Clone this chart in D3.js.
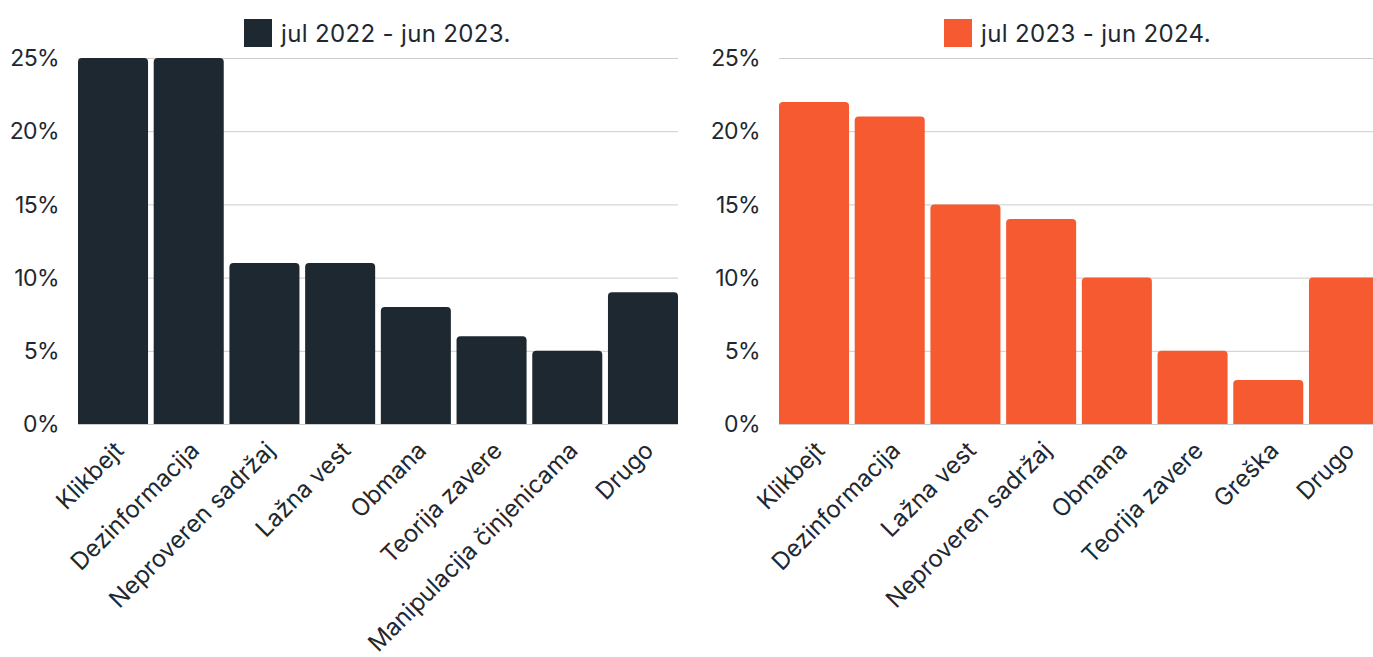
<!DOCTYPE html>
<html><head><meta charset="utf-8">
<script src="https://cdn.jsdelivr.net/npm/d3@7"></script>
<style>body{margin:0;background:#fff;}svg{display:block;font-family:Inter,"Noto Sans",sans-serif;}</style>
</head><body>
<svg id="c" width="1373" height="657"></svg>
<script>
const categories1 = ["Klikbejt","Dezinformacija","Neproveren sadržaj","Lažna vest","Obmana","Teorija zavere","Manipulacija činjenicama","Drugo"];
const values1 = [25,25,11,11,8,6,5,9];
const categories2 = ["Klikbejt","Dezinformacija","Lažna vest","Neproveren sadržaj","Obmana","Teorija zavere","Greška","Drugo"];
const values2 = [22,21,15,14,10,5,3,10];
const yTicks = [0,5,10,15,20,25];
const series = ["jul 2022 - jun 2023.","jul 2023 - jun 2024."];
const colors = ["#1e2830","#f55a31"];

const svg = d3.select("#c");
const textColor = "#1e2830";

function panel(x0, x1, labelX, legendX, cats, vals, name, color){
  const g = svg.append("g");
  const x = d3.scaleBand().domain(cats).range([x0,x1]).paddingInner(0.075).paddingOuter(0);
  const y = d3.scaleLinear().domain([0,25]).range([424,58]);
  g.selectAll("line.grid").data(yTicks).join("line")
    .attr("x1",x0).attr("x2",x1).attr("y1",d=>y(d)+0.5).attr("y2",d=>y(d)+0.5)
    .attr("stroke","#cccccc").attr("stroke-width",1);
  g.selectAll("text.yl").data(yTicks).join("text")
    .attr("x",labelX).attr("y",d=>y(d)).attr("dy","0.36em")
    .attr("text-anchor","end").attr("font-size",23).attr("letter-spacing","-0.6px").attr("fill",textColor)
    .text(d=>d+"%");
  const r = 4;
  g.selectAll("path.bar").data(cats).join("path")
    .attr("fill",color)
    .attr("d",(c,i)=>{
      const bx = x(c), bw = x.bandwidth(), top = y(vals[i]), bot = y(0);
      return `M${bx},${bot}V${top+r}Q${bx},${top} ${bx+r},${top}H${bx+bw-r}Q${bx+bw},${top} ${bx+bw},${top+r}V${bot}Z`;
    });
  g.selectAll("text.xl").data(cats).join("text")
    .attr("transform",c=>`translate(${x(c)+x.bandwidth()/2+12},${452}) rotate(-45)`)
    .attr("text-anchor","end").attr("font-size",24).attr("fill",textColor)
    .text(c=>c);
  g.append("rect").attr("x",legendX).attr("y",19).attr("width",28).attr("height",28).attr("fill",color);
  g.append("text").attr("x",legendX+37).attr("y",33).attr("dy","0.36em")
    .attr("font-size",24).attr("letter-spacing","0.35px").attr("fill",textColor).text(name);
}
panel(78,678,59,244,categories1,values1,series[0],colors[0]);
panel(779,1379,760,944,categories2,values2,series[1],colors[1]);
</script>
</body></html>
